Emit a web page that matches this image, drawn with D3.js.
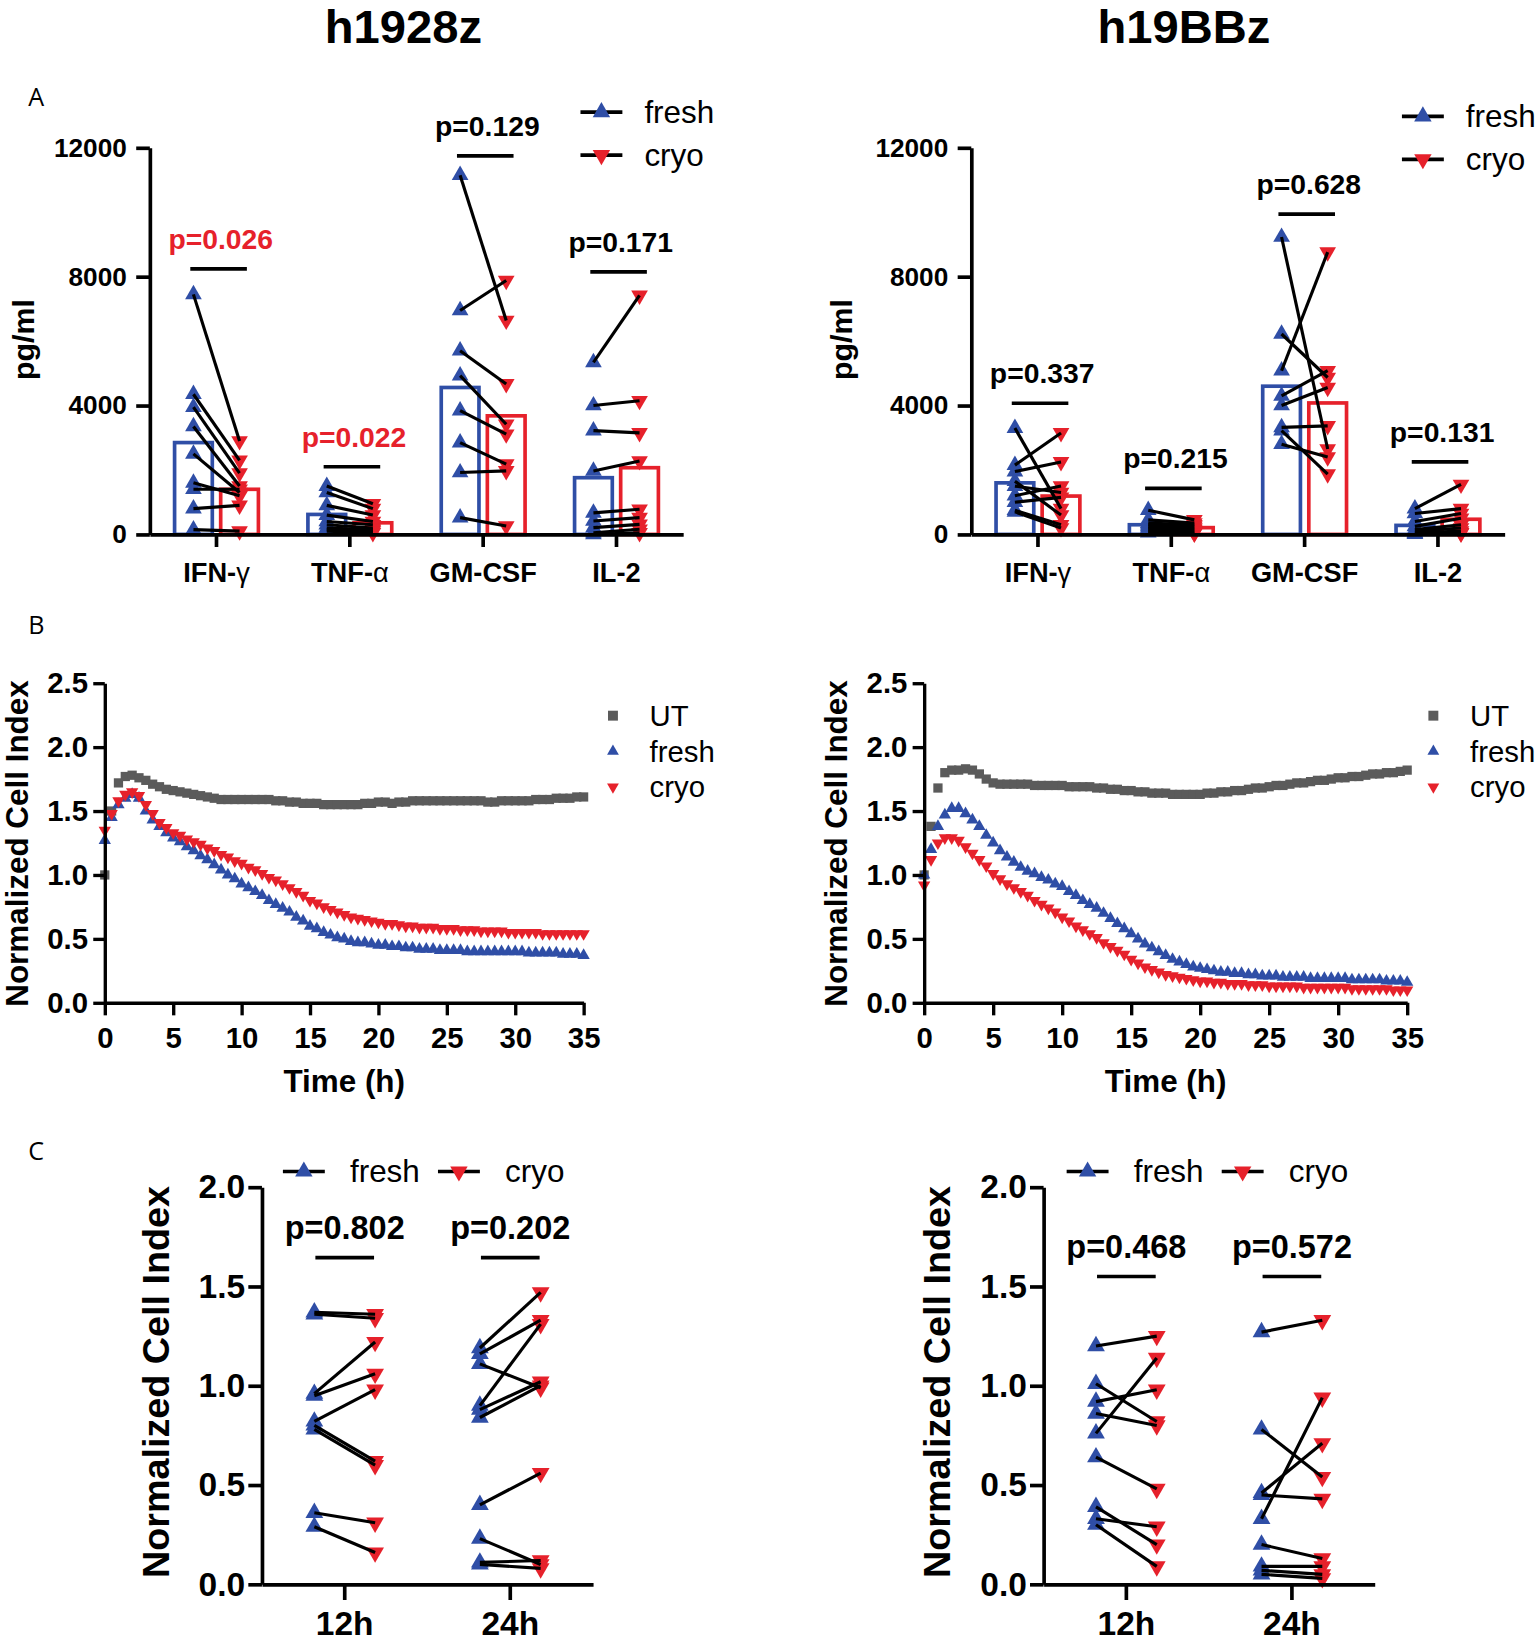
<!DOCTYPE html>
<html>
<head>
<meta charset="utf-8">
<script src="https://cdn.jsdelivr.net/npm/d3@7"></script>
<style>
  body { margin: 0; background: #fff; }
</style>
</head>
<body>
<div id="chart"></div>
<script>
/* cytokine release (A), killing curves (B), paired cell index (C) */
const blue = "#2f4ea6", red = "#e6212b", gray = "#5b5b5b";
const FONT = '"Liberation Sans", Arial, Helvetica, sans-serif';

// ---- panel A data (pg/ml) ----
const cytokines = ["IFN-γ", "TNF-α", "GM-CSF", "IL-2"];
const cytoTicks = [0, 4000, 8000, 12000];

const h28Fresh = [
	[7450, 4350, 3950, 3350, 2500, 1600, 1400, 800, 150],
	[1500, 1300, 900, 600, 400, 300, 200, 150, 100],
	[11150, 6950, 5700, 4930, 3840, 2850, 1920, 520],
	[5340, 4000, 3220, 1970, 670, 415, 210, 50, 0]
];
const h28Cryo = [
	[2900, 2300, 1900, 1500, 1300, 1200, 1400, 900, 100],
	[950, 800, 600, 400, 300, 200, 150, 100, 50],
	[6640, 7880, 4670, 3420, 3110, 2180, 1970, 260],
	[7420, 4150, 3150, 2280, 780, 520, 310, 160, 50]
];
const h28FreshMean = [2850, 620, 4560, 1760];
const h28CryoMean = [1400, 360, 3680, 2070];
const h28PText = ["p=0.026", "p=0.022", "p=0.129", "p=0.171"];
const h28PLine = [8240, 2100, 11750, 8150];
const h28Sig = [true, true, false, false];

const bbFresh = [
	[3300, 2150, 1950, 1650, 1500, 1200, 1000, 750, 700],
	[750, 450, 350, 300, 250, 200, 150, 100, 50],
	[9230, 6220, 5080, 4300, 4000, 3320, 3220, 2800],
	[800, 650, 400, 250, 150, 100, 50, 30, 10]
];
const bbCryo = [
	[800, 3150, 2250, 600, 1300, 1500, 1150, 300, 200],
	[450, 350, 300, 250, 200, 150, 100, 50, 30],
	[2650, 4870, 8760, 5080, 4560, 3370, 1870, 2400],
	[1550, 800, 650, 500, 300, 200, 100, 50, 30]
];
const bbFreshMean = [1600, 300, 4600, 280];
const bbCryoMean = [1190, 210, 4080, 470];
const bbPText = ["p=0.337", "p=0.215", "p=0.628", "p=0.131"];
const bbPLine = [4070, 1430, 9940, 2250];
const bbSig = [false, false, false, false];

// ---- panel B data (normalized cell index, every 0.5 h from 0 to 35 h) ----
const hours = d3.range(0, 35.01, 0.5);
const timeTicks = [0, 5, 10, 15, 20, 25, 30, 35];
const ciTicksB = [0, 0.5, 1, 1.5, 2, 2.5];

const h28UT = [
	1.00, 1.50, 1.72, 1.77, 1.78, 1.76, 1.74, 1.71, 1.69, 1.67,
	1.66, 1.65, 1.64, 1.63, 1.62, 1.61, 1.60, 1.59, 1.59, 1.59,
	1.59, 1.59, 1.59, 1.59, 1.59, 1.58, 1.58, 1.57, 1.57, 1.56,
	1.56, 1.56, 1.55, 1.55, 1.55, 1.55, 1.55, 1.55, 1.56, 1.56,
	1.57, 1.57, 1.56, 1.57, 1.57, 1.58, 1.58, 1.58, 1.58, 1.58,
	1.58, 1.58, 1.58, 1.58, 1.58, 1.58, 1.57, 1.57, 1.58, 1.58,
	1.58, 1.58, 1.58, 1.59, 1.59, 1.59, 1.60, 1.60, 1.60, 1.61,
	1.61];
const h28KillFresh = [
	1.27, 1.45, 1.55, 1.60, 1.63, 1.60, 1.50, 1.43, 1.38, 1.33,
	1.29, 1.26, 1.22, 1.19, 1.15, 1.12, 1.08, 1.04, 1.00, 0.97,
	0.93, 0.90, 0.87, 0.84, 0.80, 0.77, 0.74, 0.71, 0.67, 0.64,
	0.60, 0.58, 0.55, 0.53, 0.51, 0.50, 0.48, 0.47, 0.47, 0.46,
	0.45, 0.45, 0.44, 0.44, 0.43, 0.43, 0.42, 0.42, 0.42, 0.41,
	0.41, 0.41, 0.41, 0.40, 0.40, 0.40, 0.40, 0.40, 0.40, 0.40,
	0.40, 0.40, 0.39, 0.39, 0.39, 0.39, 0.39, 0.38, 0.38, 0.38,
	0.37];
const h28KillCryo = [
	1.35, 1.48, 1.58, 1.63, 1.65, 1.62, 1.55, 1.48, 1.41, 1.37,
	1.33, 1.31, 1.28, 1.26, 1.24, 1.21, 1.19, 1.16, 1.14, 1.11,
	1.09, 1.06, 1.04, 1.01, 0.98, 0.96, 0.93, 0.90, 0.87, 0.84,
	0.80, 0.78, 0.75, 0.73, 0.71, 0.69, 0.67, 0.66, 0.65, 0.64,
	0.63, 0.62, 0.62, 0.61, 0.60, 0.60, 0.59, 0.59, 0.59, 0.58,
	0.58, 0.58, 0.57, 0.57, 0.57, 0.56, 0.56, 0.56, 0.56, 0.55,
	0.55, 0.55, 0.55, 0.55, 0.54, 0.54, 0.54, 0.54, 0.54, 0.54,
	0.54];

const bbUT = [
	1.00, 1.38, 1.68, 1.80, 1.82, 1.82, 1.83, 1.82, 1.79, 1.75,
	1.72, 1.71, 1.71, 1.71, 1.71, 1.71, 1.70, 1.70, 1.70, 1.70,
	1.70, 1.69, 1.69, 1.69, 1.69, 1.68, 1.68, 1.67, 1.67, 1.66,
	1.66, 1.65, 1.65, 1.64, 1.64, 1.64, 1.63, 1.63, 1.63, 1.63,
	1.63, 1.64, 1.64, 1.65, 1.65, 1.66, 1.66, 1.67, 1.68, 1.68,
	1.69, 1.70, 1.70, 1.71, 1.72, 1.72, 1.73, 1.74, 1.74, 1.75,
	1.76, 1.76, 1.77, 1.77, 1.78, 1.79, 1.79, 1.80, 1.80, 1.81,
	1.82];
const bbKillFresh = [
	1.00, 1.20, 1.38, 1.47, 1.52, 1.52, 1.48, 1.43, 1.38, 1.31,
	1.25, 1.19, 1.14, 1.10, 1.06, 1.03, 1.01, 0.98, 0.96, 0.93,
	0.91, 0.87, 0.84, 0.80, 0.77, 0.74, 0.70, 0.66, 0.62, 0.58,
	0.54, 0.50, 0.46, 0.43, 0.40, 0.37, 0.34, 0.32, 0.30, 0.28,
	0.27, 0.26, 0.25, 0.24, 0.24, 0.23, 0.23, 0.22, 0.22, 0.21,
	0.21, 0.21, 0.20, 0.20, 0.20, 0.20, 0.19, 0.19, 0.19, 0.19,
	0.19, 0.19, 0.18, 0.18, 0.18, 0.18, 0.18, 0.17, 0.17, 0.17,
	0.16];
const bbKillCryo = [
	0.92, 1.12, 1.25, 1.29, 1.29, 1.27, 1.22, 1.17, 1.12, 1.07,
	1.01, 0.97, 0.93, 0.90, 0.87, 0.84, 0.80, 0.77, 0.74, 0.71,
	0.67, 0.64, 0.60, 0.57, 0.54, 0.51, 0.47, 0.44, 0.41, 0.38,
	0.34, 0.31, 0.28, 0.26, 0.24, 0.22, 0.21, 0.20, 0.19, 0.18,
	0.17, 0.17, 0.16, 0.16, 0.15, 0.15, 0.15, 0.14, 0.14, 0.14,
	0.13, 0.13, 0.13, 0.13, 0.13, 0.12, 0.12, 0.12, 0.12, 0.12,
	0.12, 0.12, 0.11, 0.11, 0.11, 0.11, 0.11, 0.11, 0.10, 0.10,
	0.10];

// ---- panel C data (paired cell index at 12h / 24h) ----
const timepoints = ["12h", "24h"];
const ciTicksC = [0, 0.5, 1, 1.5, 2];

const h28C12Fresh = [1.37, 1.36, 0.96, 0.95, 0.82, 0.80, 0.78, 0.36, 0.29];
const h28C12Cryo = [1.36, 1.34, 1.22, 1.06, 0.98, 0.62, 0.60, 0.31, 0.16];
const h28C24Fresh = [1.19, 1.16, 1.11, 0.90, 0.88, 0.84, 0.40, 0.23, 0.11, 0.10];
const h28C24Cryo = [1.47, 1.33, 0.99, 1.31, 1.02, 1.00, 0.56, 0.10, 0.12, 0.08];
const h28CPText = ["p=0.802", "p=0.202"];
const h28CPLine = [1.645, 1.645];

const bbC12Fresh = [1.20, 1.01, 0.92, 0.86, 0.76, 0.64, 0.39, 0.33, 0.30];
const bbC12Cryo = [1.25, 0.82, 0.98, 0.80, 1.14, 0.48, 0.20, 0.29, 0.09];
const bbC24Fresh = [1.27, 0.78, 0.46, 0.45, 0.33, 0.20, 0.09, 0.07, 0.05];
const bbC24Cryo = [1.33, 0.54, 0.71, 0.43, 0.94, 0.13, 0.09, 0.05, 0.03];
const bbCPText = ["p=0.468", "p=0.572"];
const bbCPLine = [1.55, 1.55];

// ---- drawing ----
const svg = d3.select("#chart").append("svg")
	.attr("width", 1535)
	.attr("height", 1643)
	.attr("viewBox", "0 0 1465 1568")
	.style("font-family", FONT);

function up(size) { return d3.symbol().type(d3.symbolTriangle).size(size)(); }
function square(size) { return d3.symbol().type(d3.symbolSquare).size(size)(); }

function styleAxis(sel, fontSize, sw) {
	sel.attr("font-family", FONT).attr("font-size", fontSize);
	sel.select(".domain").attr("stroke-width", sw).attr("stroke", "#000");
	sel.selectAll(".tick line").attr("stroke-width", sw).attr("stroke", "#000");
	sel.selectAll(".tick text").attr("font-weight", "bold").attr("fill", "#000");
}

function rotatedLabel(x, y, text, size) {
	svg.append("text")
		.attr("transform", "translate(" + x + "," + y + ") rotate(-90)")
		.attr("text-anchor", "middle")
		.attr("dy", "0.36em")
		.attr("font-size", size)
		.attr("font-weight", "bold")
		.text(text);
}

function legendLine(x, y, flip) {
	svg.append("line").attr("x1", x).attr("x2", x + 40).attr("y1", y).attr("y2", y)
		.attr("stroke", "#000").attr("stroke-width", 3.5);
	svg.append("path").attr("d", up(120))
		.attr("transform", "translate(" + (x + 20) + "," + y + ")" + (flip ? " rotate(180)" : ""))
		.attr("fill", flip ? red : blue);
}

function drawCytokine(p) {
	const g = svg.append("g");
	const x = d3.scaleBand().domain(cytokines).range([p.x0, p.x1]);
	const y = d3.scaleLinear().domain([0, 12000]).range([510, 141]);
	const cx = c => x(c) + x.bandwidth() / 2;
	const off = 22;
	const rows = cytokines.map((c, i) => ({
		c: c, fresh: p.fresh[i], cryo: p.cryo[i], fm: p.freshMean[i], cm: p.cryoMean[i],
		pt: p.pText[i], pl: p.pLine[i], sig: p.sig[i]
	}));

	g.selectAll("rect.fresh").data(rows).join("rect").attr("class", "fresh")
		.attr("x", d => cx(d.c) - off - 18).attr("width", 36)
		.attr("y", d => y(d.fm)).attr("height", d => y(0) - y(d.fm))
		.attr("fill", "none").attr("stroke", blue).attr("stroke-width", 3.5);
	g.selectAll("rect.cryo").data(rows).join("rect").attr("class", "cryo")
		.attr("x", d => cx(d.c) + off - 18).attr("width", 36)
		.attr("y", d => y(d.cm)).attr("height", d => y(0) - y(d.cm))
		.attr("fill", "none").attr("stroke", red).attr("stroke-width", 3.5);

	const pairs = rows.flatMap(d => d.fresh.map((v, i) => ({ c: d.c, f: v, k: d.cryo[i] })));
	g.selectAll("path.f").data(pairs).join("path").attr("class", "f")
		.attr("d", up(110)).attr("fill", blue)
		.attr("transform", d => "translate(" + (cx(d.c) - off) + "," + y(d.f) + ")");
	g.selectAll("path.k").data(pairs).join("path").attr("class", "k")
		.attr("d", up(110)).attr("fill", red)
		.attr("transform", d => "translate(" + (cx(d.c) + off) + "," + y(d.k) + ") rotate(180)");
	g.selectAll("line.pair").data(pairs).join("line").attr("class", "pair")
		.attr("x1", d => cx(d.c) - off).attr("y1", d => y(d.f))
		.attr("x2", d => cx(d.c) + off).attr("y2", d => y(d.k))
		.attr("stroke", "#000").attr("stroke-width", 3);

	// p-values
	g.selectAll("line.sig").data(rows).join("line").attr("class", "sig")
		.attr("x1", d => cx(d.c) - 25).attr("x2", d => cx(d.c) + 29)
		.attr("y1", d => y(d.pl)).attr("y2", d => y(d.pl))
		.attr("stroke", "#000").attr("stroke-width", 3.5);
	g.selectAll("text.p").data(rows).join("text").attr("class", "p")
		.attr("x", d => cx(d.c) + 4).attr("y", d => y(d.pl) - 19)
		.attr("text-anchor", "middle").attr("font-size", 27).attr("font-weight", "bold")
		.attr("fill", d => d.sig ? red : "#000")
		.text(d => d.pt);

	g.append("g").attr("transform", "translate(" + p.x0 + ",0)")
		.call(d3.axisLeft(y).tickValues(cytoTicks).tickSize(13).tickPadding(9).tickSizeOuter(0).tickFormat(d3.format("d")))
		.call(s => styleAxis(s, 25, 3.5));
	g.append("g").attr("transform", "translate(0,510)")
		.call(d3.axisBottom(x).tickSize(12).tickPadding(15).tickSizeOuter(0))
		.call(s => styleAxis(s, 26, 3.5))
		.selectAll(".tick text").each(function(d) {
			const t = d3.select(this).text(null);
			const greek = /[αγ]$/.test(d);
			t.append("tspan").text(greek ? d.slice(0, -1) : d);
			if (greek) t.append("tspan").attr("font-weight", "normal").text(d.slice(-1));
		});

	rotatedLabel(p.labelX, 324, "pg/ml", 29);
	legendLine(p.legX, p.legY, false);
	legendLine(p.legX, p.legY + 41, true);
	svg.append("text").attr("x", p.legX + 61).attr("y", p.legY + 10).attr("font-size", 30).text("fresh");
	svg.append("text").attr("x", p.legX + 61).attr("y", p.legY + 51).attr("font-size", 30).text("cryo");
}

function drawKilling(p) {
	const g = svg.append("g");
	const x = d3.scaleLinear().domain([0, 35]).range([p.x0, p.x1]);
	const y = d3.scaleLinear().domain([0, 2.5]).range([957, 652]);
	const series = [
		{ name: "UT", v: p.ut, color: gray, d: square(78), rot: "", leg: square(90) },
		{ name: "fresh", v: p.fresh, color: blue, d: up(60), rot: "", leg: up(55) },
		{ name: "cryo", v: p.cryo, color: red, d: up(60), rot: " rotate(180)", leg: up(55) }
	];
	series.forEach(s => {
		g.append("g").selectAll("path").data(s.v).join("path")
			.attr("d", s.d).attr("fill", s.color)
			.attr("transform", (d, i) => "translate(" + x(hours[i]) + "," + y(d) + ")" + s.rot);
	});

	g.append("g").attr("transform", "translate(" + p.x0 + ",0)")
		.call(d3.axisLeft(y).tickValues(ciTicksB).tickSize(11).tickPadding(5).tickSizeOuter(0).tickFormat(d3.format(".1f")))
		.call(s => styleAxis(s, 28, 3.2));
	g.append("g").attr("transform", "translate(0,957)")
		.call(d3.axisBottom(x).tickValues(timeTicks).tickSize(12).tickPadding(11).tickSizeOuter(0))
		.call(s => styleAxis(s, 28, 3.2));

	svg.append("text").attr("x", (p.x0 + p.x1) / 2).attr("y", 1042)
		.attr("text-anchor", "middle").attr("font-size", 30).attr("font-weight", "bold").text("Time (h)");
	rotatedLabel(p.labelX, 805, "Normalized Cell Index", 30);

	series.forEach((s, i) => {
		svg.append("path").attr("d", s.leg).attr("fill", s.color)
			.attr("transform", "translate(" + p.legX + "," + (683 + i * 34) + ")" + s.rot);
		svg.append("text").attr("x", p.legX + 35).attr("y", 693 + i * 34)
			.attr("font-size", 28).text(s.name);
	});
}

function drawPaired(p) {
	const g = svg.append("g");
	const x = d3.scaleBand().domain(timepoints).range([p.x0, p.x1]);
	const y = d3.scaleLinear().domain([0, 2]).range([1512, 1133]);
	const cx = c => x(c) + x.bandwidth() / 2;
	const off = 29;
	const groups = [
		{ c: "12h", fresh: p.f12, cryo: p.k12 },
		{ c: "24h", fresh: p.f24, cryo: p.k24 }
	];
	const pairs = groups.flatMap(d => d.fresh.map((v, i) => ({ c: d.c, f: v, k: d.cryo[i] })));

	g.selectAll("path.f").data(pairs).join("path").attr("class", "f")
		.attr("d", up(125)).attr("fill", blue)
		.attr("transform", d => "translate(" + (cx(d.c) - off) + "," + y(d.f) + ")");
	g.selectAll("path.k").data(pairs).join("path").attr("class", "k")
		.attr("d", up(125)).attr("fill", red)
		.attr("transform", d => "translate(" + (cx(d.c) + off) + "," + y(d.k) + ") rotate(180)");
	g.selectAll("line.pair").data(pairs).join("line").attr("class", "pair")
		.attr("x1", d => cx(d.c) - off).attr("y1", d => y(d.f))
		.attr("x2", d => cx(d.c) + off).attr("y2", d => y(d.k))
		.attr("stroke", "#000").attr("stroke-width", 3);

	const sig = timepoints.map((c, i) => ({ c: c, t: p.pText[i], v: p.pLine[i] }));
	g.selectAll("line.sig").data(sig).join("line").attr("class", "sig")
		.attr("x1", d => cx(d.c) - 28).attr("x2", d => cx(d.c) + 28)
		.attr("y1", d => y(d.v)).attr("y2", d => y(d.v))
		.attr("stroke", "#000").attr("stroke-width", 3.5);
	g.selectAll("text.p").data(sig).join("text").attr("class", "p")
		.attr("x", d => cx(d.c)).attr("y", d => y(d.v) - 18)
		.attr("text-anchor", "middle").attr("font-size", 31).attr("font-weight", "bold")
		.text(d => d.t);

	g.append("g").attr("transform", "translate(" + p.x0 + ",0)")
		.call(d3.axisLeft(y).tickValues(ciTicksC).tickSize(13).tickPadding(3).tickSizeOuter(0).tickFormat(d3.format(".1f")))
		.call(s => styleAxis(s, 32, 3.5));
	g.append("g").attr("transform", "translate(0,1512)")
		.call(d3.axisBottom(x).tickSize(15).tickPadding(11).tickSizeOuter(0))
		.call(s => styleAxis(s, 32, 3.5));

	rotatedLabel(p.labelX, 1319, "Normalized Cell Index", 36);

	legendLine(p.legX, 1118, false);
	svg.append("text").attr("x", p.legX + 64).attr("y", 1128).attr("font-size", 30).text("fresh");
	legendLine(p.legX + 148, 1118, true);
	svg.append("text").attr("x", p.legX + 212).attr("y", 1128).attr("font-size", 30).text("cryo");
}

// titles and panel letters
svg.append("text").attr("x", 385).attr("y", 41).attr("text-anchor", "middle")
	.attr("font-size", 45).attr("font-weight", "bold").text("h1928z");
svg.append("text").attr("x", 1130).attr("y", 41).attr("text-anchor", "middle")
	.attr("font-size", 45).attr("font-weight", "bold").text("h19BBz");
[["A", 101], ["B", 605], ["C", 1107]].forEach(d => {
	svg.append("text").attr("x", 27).attr("y", d[1]).attr("font-size", 24)
		.attr("font-family", '"Open Sans", "DejaVu Sans", sans-serif').text(d[0]);
});

drawCytokine({ x0: 143, x1: 652, fresh: h28Fresh, cryo: h28Cryo, freshMean: h28FreshMean, cryoMean: h28CryoMean,
	pText: h28PText, pLine: h28PLine, sig: h28Sig, labelX: 22, legX: 554, legY: 107 });
drawCytokine({ x0: 927, x1: 1436, fresh: bbFresh, cryo: bbCryo, freshMean: bbFreshMean, cryoMean: bbCryoMean,
	pText: bbPText, pLine: bbPLine, sig: bbSig, labelX: 803, legX: 1338, legY: 111 });

drawKilling({ x0: 100, x1: 557, ut: h28UT, fresh: h28KillFresh, cryo: h28KillCryo, labelX: 16, legX: 585 });
drawKilling({ x0: 882, x1: 1343, ut: bbUT, fresh: bbKillFresh, cryo: bbKillCryo, labelX: 798, legX: 1368 });

drawPaired({ x0: 250, x1: 566, f12: h28C12Fresh, k12: h28C12Cryo, f24: h28C24Fresh, k24: h28C24Cryo,
	pText: h28CPText, pLine: h28CPLine, labelX: 148, legX: 270 });
drawPaired({ x0: 996, x1: 1312, f12: bbC12Fresh, k12: bbC12Cryo, f24: bbC24Fresh, k24: bbC24Cryo,
	pText: bbCPText, pLine: bbCPLine, labelX: 894, legX: 1018 });
</script>
</body>
</html>
